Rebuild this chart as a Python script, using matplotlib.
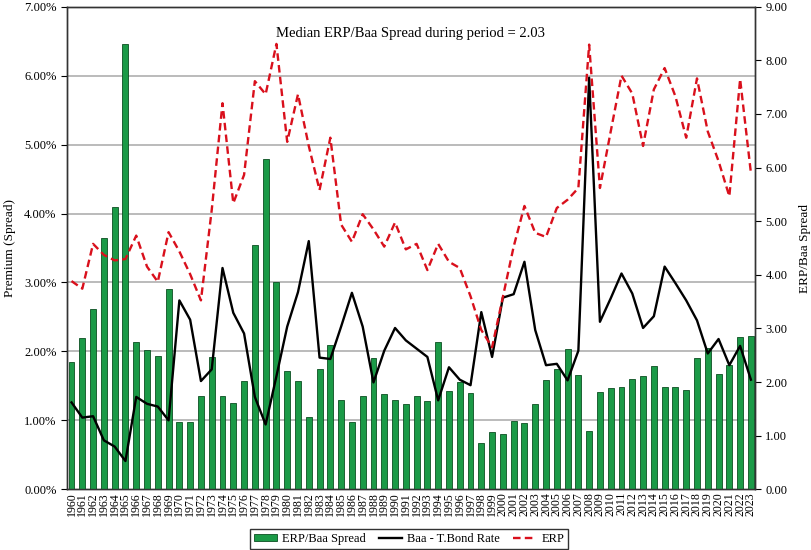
import matplotlib
matplotlib.use("Agg")
import matplotlib.pyplot as plt
from matplotlib.ticker import FuncFormatter
from matplotlib.patches import Patch
from matplotlib.lines import Line2D
import numpy as np

plt.rcParams['font.family'] = ['Liberation Serif', 'DejaVu Serif']

years = list(range(1960, 2024))

erp_baa_spread = [2.38, 2.82, 3.36, 4.69, 5.27, 8.31, 2.74, 2.60, 2.49, 3.73,
                  1.25, 1.26, 1.74, 2.46, 1.74, 1.61, 2.02, 4.56, 6.16, 3.86,
                  2.20, 2.02, 1.35, 2.25, 2.69, 1.66, 1.25, 1.74, 2.44, 1.77,
                  1.66, 1.60, 1.74, 1.65, 2.75, 1.84, 2.00, 1.80, 0.87, 1.06,
                  1.03, 1.27, 1.24, 1.60, 2.03, 2.24, 2.62, 2.13, 1.08, 1.81,
                  1.88, 1.91, 2.06, 2.12, 2.30, 1.90, 1.90, 1.85, 2.44, 2.64,
                  2.15, 2.32, 2.84, 2.86]

baa_tbond = [1.26, 1.04, 1.06, 0.71, 0.62, 0.41, 1.34, 1.24, 1.20, 1.00,
             2.74, 2.46, 1.57, 1.74, 3.21, 2.56, 2.26, 1.34, 0.94, 1.64,
             2.36, 2.86, 3.60, 1.91, 1.89, 2.36, 2.85, 2.36, 1.55, 2.01,
             2.34, 2.16, 2.04, 1.92, 1.29, 1.77, 1.59, 1.51, 2.57, 1.92,
             2.78, 2.83, 3.30, 2.31, 1.80, 1.82, 1.58, 2.01, 5.97, 2.43,
             2.77, 3.13, 2.84, 2.34, 2.51, 3.23, 2.99, 2.74, 2.45, 1.97,
             2.18, 1.80, 2.08, 1.59]

erp = [3.02, 2.91, 3.56, 3.40, 3.32, 3.34, 3.68, 3.23, 3.01, 3.73,
       3.45, 3.12, 2.74, 4.05, 5.60, 4.15, 4.56, 5.92, 5.73, 6.46,
       5.04, 5.73, 4.98, 4.34, 5.10, 3.84, 3.59, 3.99, 3.77, 3.52,
       3.87, 3.48, 3.56, 3.18, 3.56, 3.30, 3.21, 2.80, 2.31, 2.06,
       2.79, 3.52, 4.11, 3.72, 3.66, 4.08, 4.20, 4.37, 6.45, 4.37,
       5.19, 6.00, 5.74, 4.98, 5.80, 6.11, 5.70, 5.10, 5.96, 5.19,
       4.76, 4.25, 5.95, 4.59]

median_text = "Median ERP/Baa Spread during period = 2.03"

x = np.arange(len(years))

fig = plt.figure(figsize=(8.12, 5.50), dpi=100)
axb = fig.add_axes([67/812, 1 - 489.3/550, (755 - 67)/812, (489.3 - 6.7)/550])
axl = axb.twinx()

# Bars on right-hand scale
axb.bar(x, erp_baa_spread, width=0.55, color='#1b9a47', edgecolor='#0b4f22',
        linewidth=0.6, zorder=3)
axb.set_ylim(0, 9)
axb.set_xlim(-0.42, 63.38)
axb.set_yticks(np.arange(0, 10, 1))
axb.yaxis.set_major_formatter(FuncFormatter(lambda v, p: f"{v:.2f}"))
# grid lines at left-axis (percent) ticks, behind the bars
axb.set_yticks([k * 9 / 7 for k in range(1, 7)], minor=True)
axb.grid(which='minor', axis='y', color='#a8a8a8', linewidth=1.1, zorder=0)
axb.set_xticks(x)
axb.set_xticklabels([str(y) for y in years], rotation=90, fontsize=8.6)
axb.tick_params(axis='x', length=0, pad=2)

# Lines on the left-hand percent scale
axl.plot(x, baa_tbond, color='black', linewidth=1.7, zorder=4)
axl.plot(x, erp, color='#d9101c', linewidth=1.7, linestyle=(0, (3.2, 1.8)), zorder=5)
axl.set_ylim(0, 7)
axl.set_yticks(np.arange(0, 8, 1))
axl.yaxis.set_major_formatter(FuncFormatter(lambda v, p: f"{v:.2f}%"))

# Put axes sides in place
axb.yaxis.tick_right()
axb.yaxis.set_label_position('right')
axb.set_ylabel("ERP/Baa Spread", fontsize=9.5, labelpad=8)
axb.tick_params(axis='y', which='minor', length=0, right=False, left=False,
                labelright=False, labelleft=False)
axb.tick_params(axis='y', which='major', length=4, labelsize=9, direction='out',
                right=True, left=False, labelright=True, labelleft=False)

axl.yaxis.tick_left()
axl.yaxis.set_label_position('left')
axl.set_ylabel("Premium (Spread)", fontsize=9.5, labelpad=6)
axl.tick_params(axis='y', length=4, labelsize=9, direction='out',
                left=True, right=False, labelleft=True, labelright=False)

for a in (axb, axl):
    for s in a.spines.values():
        s.set_color('#333333')
        s.set_linewidth(1.0)

axl.text(0.5, 0.945, median_text, transform=axl.transAxes, ha='center',
         va='center', fontsize=10.5)

handles = [Patch(facecolor='#1b9a47', edgecolor='#0b4f22', linewidth=0.6),
           Line2D([0], [0], color='black', linewidth=1.7),
           Line2D([0], [0], color='#d9101c', linewidth=1.7, linestyle=(0, (3.2, 1.8)))]
labels = ["ERP/Baa Spread", "Baa - T.Bond Rate", "ERP"]
leg = fig.legend(handles, labels, loc='lower center', bbox_to_anchor=(409/812, 0.0),
                 ncol=3, fontsize=9, frameon=True, fancybox=False,
                 edgecolor='black', borderpad=0.3, handlelength=1.9,
                 handleheight=0.5, columnspacing=1.0, handletextpad=0.4,
                 borderaxespad=0.1)
leg.get_frame().set_linewidth(1.0)

fig.savefig("out.png", dpi=100)
